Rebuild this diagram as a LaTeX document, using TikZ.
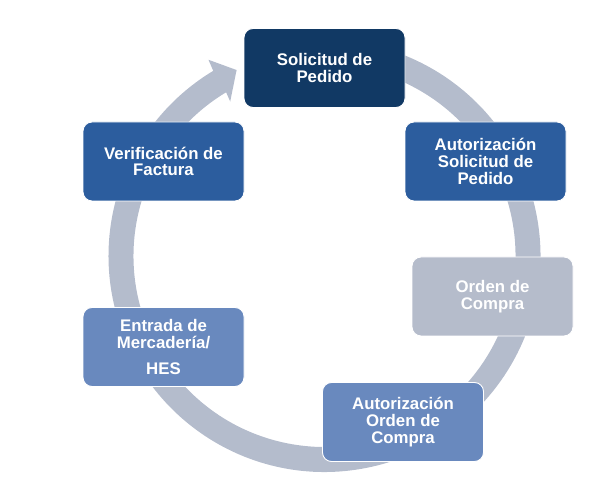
\documentclass[tikz,border=0pt]{standalone}
\usepackage{fontspec}
\setmainfont{Liberation Sans}
\definecolor{ringc}{RGB}{180,188,204}
\definecolor{navyc}{RGB}{17,57,100}
\definecolor{bluec}{RGB}{44,93,158}
\definecolor{midc}{RGB}{105,137,190}
\definecolor{grayc}{RGB}{181,188,203}
\tikzset{
  stepbox/.style={rounded corners=9pt, draw=white, line width=0.9pt,
    minimum width=161pt, minimum height=79pt, inner sep=0pt,
    align=center, text=white,
    font=\fontsize{16.8}{16.8}\selectfont\bfseries},
}
\begin{document}
\begin{tikzpicture}[x=1pt,y=1pt]
\useasboundingbox (0,0) rectangle (603,487);
% circular arrow
\begin{scope}[shift={(324.5,231)}]
\fill[ringc] (100:216) arc[start angle=100, end angle=-239, radius=216]
  -- (-239.4:228) -- (-244.7:205.7) -- (-238.6:181)
  -- (-239:191) arc[start angle=-239, end angle=100, radius=191] -- cycle;
\end{scope}
% boxes
\node[stepbox, fill=navyc] (sp) at (324.5,419) {Solicitud de\\Pedido};
\node[stepbox, fill=bluec] (asp) at (485.5,325.5) {Autorización\\Solicitud de\\Pedido};
\node[stepbox, fill=grayc] (oc) at (492.5,190.5) {Orden de\\Compra};
\node[stepbox, fill=midc] (aoc) at (403,65) {Autorización\\Orden de\\Compra};
\node[stepbox, fill=midc] (em) at (163.5,140) {Entrada de\\Mercadería/\\[9.6pt]HES};
\node[stepbox, fill=bluec] (vf) at (163.5,325.5) {Verificación de\\Factura};
\end{tikzpicture}
\end{document}
